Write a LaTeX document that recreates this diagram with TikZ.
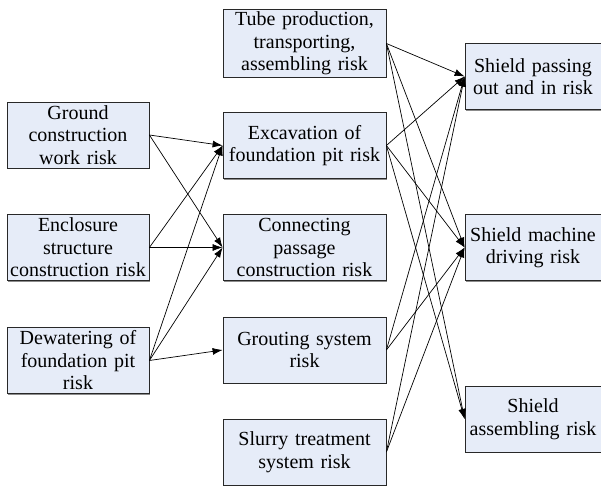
\documentclass[tikz,border=0pt]{standalone}
\usepackage{fontspec}
\setmainfont{LiberationSerif}[Extension=.ttf,UprightFont=*-Regular]
\usetikzlibrary{arrows.meta,shadows}
\definecolor{riskfill}{RGB}{230,236,248}
\definecolor{riskdraw}{RGB}{40,40,40}
\tikzset{
    riskbox/.style={
        draw=riskdraw,
        fill=riskfill,
        line width=0.8pt,
        inner sep=2pt,
        align=center,
        font=\rmfamily\fontsize{20}{22.5}\selectfont,
        drop shadow={shadow xshift=1.2pt,shadow yshift=-1.2pt,fill=black!45,opacity=1}
    },
    leftbox/.style={riskbox,minimum width=142pt,minimum height=66pt,text width=138pt},
    midbox/.style={riskbox,minimum width=163pt,minimum height=66pt,text width=159pt},
    rightbox/.style={riskbox,minimum width=134pt,minimum height=66pt,text width=132pt},
    link/.style={-{Latex[length=10pt,width=7pt]},line width=0.7pt}
}
\begin{document}
\begin{tikzpicture}[x=1pt,y=-1pt]
    \useasboundingbox (0,0) rectangle (601,486);
    \node[leftbox] (ground) at (78,135) {Ground\\construction\\work risk};
    \node[leftbox] (enclosure) at (78,247.5) {Enclosure\\structure\\construction risk};
    \node[leftbox] (dewater) at (78,360.5) {Dewatering of\\foundation pit\\risk};
    \node[midbox] (tube) at (304.5,43.5) {Tube production,\\transporting,\\assembling risk};
    \node[midbox] (excav) at (304.5,145.5) {Excavation of\\foundation pit risk};
    \node[midbox] (passage) at (304.5,247.5) {Connecting\\passage\\construction risk};
    \node[midbox] (grout) at (304.5,350) {Grouting system\\risk};
    \node[midbox] (slurry) at (304.5,452) {Slurry treatment\\system risk};
    \node[rightbox] (passing) at (533,76.5) {Shield passing\\out and in risk};
    \node[rightbox] (driving) at (533,247.5) {Shield machine\\driving risk};
    \node[rightbox] (assembling) at (533,419) {Shield\\assembling risk};
    \foreach \src/\dst in {ground/excav,ground/passage,enclosure/excav,enclosure/passage,
        dewater/excav,dewater/passage,dewater/grout,
        tube/passing,tube/driving,tube/assembling,
        excav/passing,excav/driving,excav/assembling,
        grout/passing,grout/driving,slurry/passing,slurry/driving}
        \draw[link] (\src.east) -- (\dst.west);
\end{tikzpicture}
\end{document}
